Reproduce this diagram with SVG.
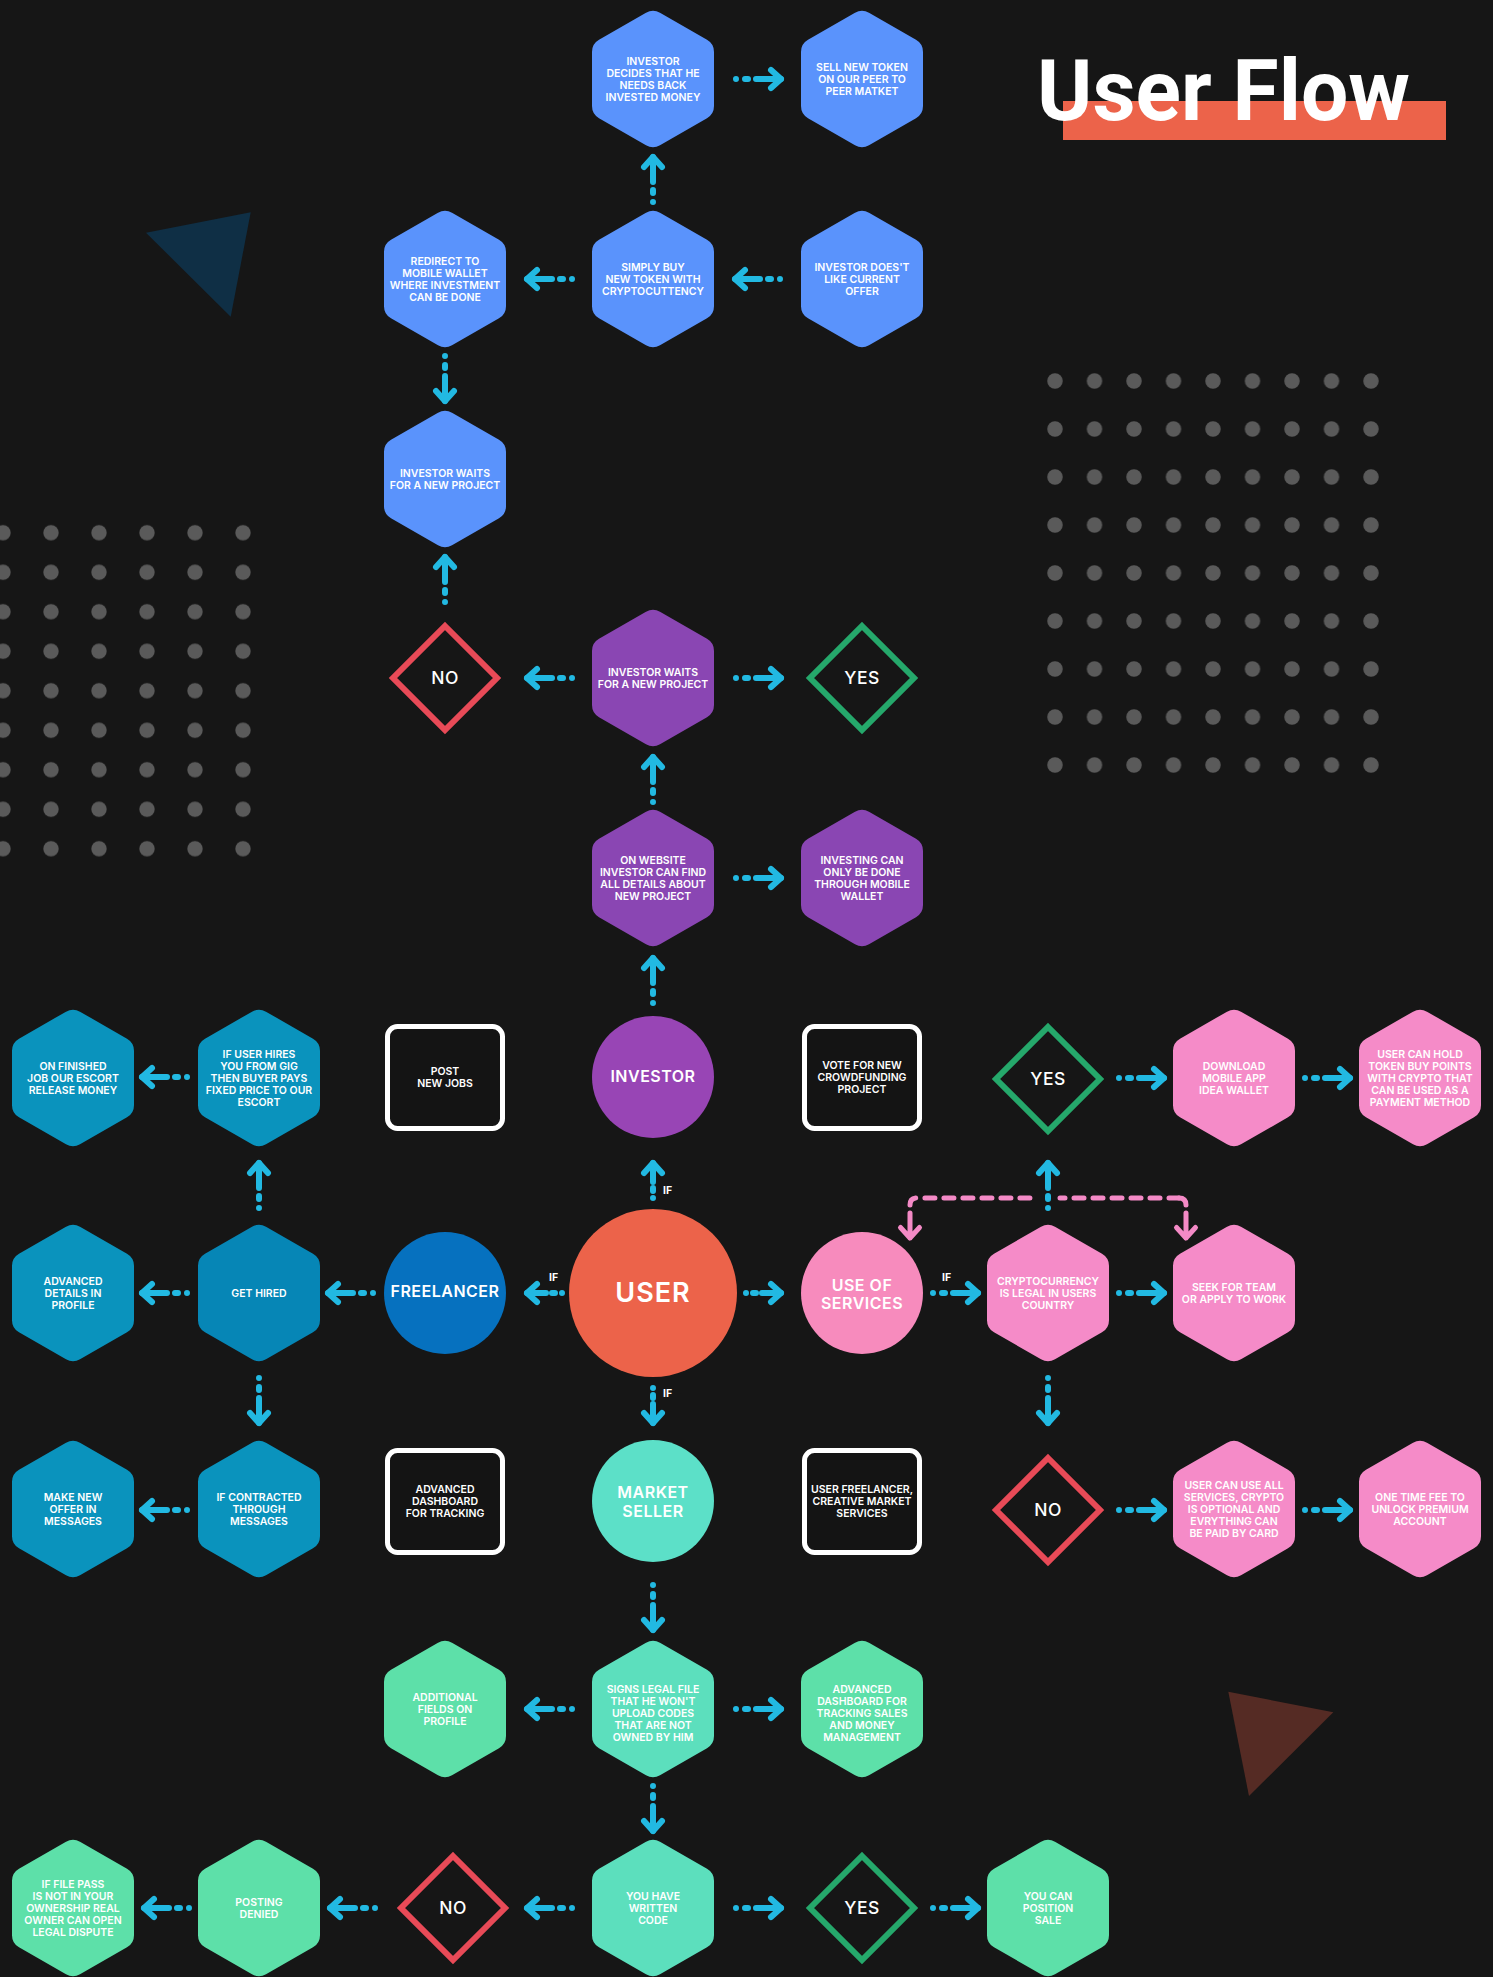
<svg xmlns="http://www.w3.org/2000/svg" width="1493" height="1977" viewBox="0 0 1493 1977">
<style>
.t{font-family:Inter,"Noto Sans","DejaVu Sans",sans-serif;font-weight:600;font-size:10.5px;fill:#fff;text-anchor:middle}
.cl{font-size:16px;letter-spacing:0.5px}
.big{font-size:27px;letter-spacing:1px}
.dt{font-family:Inter,"Noto Sans",sans-serif;font-weight:500;font-size:17.5px;fill:#fff;text-anchor:middle;letter-spacing:0.5px}
.if{font-family:Inter,"Noto Sans",sans-serif;font-weight:700;font-size:10.5px;fill:#fff}
.ar{fill:none;stroke:#22b9e2;stroke-width:6;stroke-linecap:round;stroke-linejoin:round}
.pk{fill:none;stroke:#f48ac6;stroke-width:5;stroke-linecap:round;stroke-linejoin:round}
.box{fill:#141414;stroke:#fff;stroke-width:5}
.no{fill:none;stroke:#e84a57;stroke-width:6}
.yes{fill:none;stroke:#25a86b;stroke-width:6}
.blue{fill:#5a93fc}
.purple{fill:#8a46b3}
.teal{fill:#0a93bd}
.teal2{fill:#0686b6}
.pink{fill:#f58bc8}
.green{fill:#5de0a9}
.green2{fill:#5cdfbd}
</style>
<defs>
<path id="hx" d="M-7-66.35A14 14 0 0 1 7-66.35L54-39.25A14 14 0 0 1 61-27.1L61 27.1A14 14 0 0 1 54 39.25L7 66.35A14 14 0 0 1-7 66.35L-54 39.25A14 14 0 0 1-61 27.1L-61-27.1A14 14 0 0 1-54-39.25Z"/>
<path id="dm" d="M0-52L52 0 0 52-52 0Z"/>
<g id="ar" class="ar"><path d="M-48 0H-3" stroke-dasharray="0 9 3 8 100"/><path d="M-13-9L-3 0-13 9"/></g>
<g id="as" class="ar"><path d="M-38 0H-3" stroke-dasharray="0 7 3 6 100"/><path d="M-13-9L-3 0-13 9"/></g>
<pattern id="dl" x="-21" y="513" width="48" height="39.5" patternUnits="userSpaceOnUse"><circle cx="24" cy="19.75" r="7.7" fill="#5a5a5a"/></pattern>
<pattern id="dr" x="1035.25" y="357" width="39.5" height="48" patternUnits="userSpaceOnUse"><circle cx="19.75" cy="24" r="7.7" fill="#5a5a5a"/></pattern>
</defs>
<rect width="1493" height="1977" fill="#161616"/>
<g id="decor">
<rect x="0" y="513" width="270" height="355" fill="url(#dl)"/>
<rect x="1035.25" y="357" width="355.5" height="432" fill="url(#dr)"/>
<polygon points="146,232.7 250.7,212.3 230.7,316.7" fill="#0f2f45"/>
<polygon points="1228.3,1691.7 1333.3,1712.3 1249,1796" fill="#552b24"/>
</g>
<g id="title">
<rect x="1063" y="101" width="383" height="39" fill="#ec634a"/>
<text x="1037" y="120" font-family="Roboto,'Liberation Sans',sans-serif" font-weight="700" font-size="86" fill="#fff" textLength="373" lengthAdjust="spacingAndGlyphs">User Flow</text>
</g>

<g id="connectors">
<use href="#ar" transform="translate(784,79)"/>
<use href="#ar" transform="translate(784,678)"/>
<use href="#ar" transform="translate(784,878)"/>
<use href="#ar" transform="translate(981,1293)"/>
<use href="#ar" transform="translate(1167,1293)"/>
<use href="#ar" transform="translate(1167,1078)"/>
<use href="#ar" transform="translate(1353,1078)"/>
<use href="#ar" transform="translate(1167,1510)"/>
<use href="#ar" transform="translate(1353,1510)"/>
<use href="#ar" transform="translate(784,1709)"/>
<use href="#ar" transform="translate(784,1908)"/>
<use href="#ar" transform="translate(981,1908)"/>
<use href="#as" transform="translate(784,1293)"/>
<use href="#ar" transform="translate(732,279) rotate(180)"/>
<use href="#ar" transform="translate(524,279) rotate(180)"/>
<use href="#ar" transform="translate(524,678) rotate(180)"/>
<use href="#ar" transform="translate(325,1293) rotate(180)"/>
<use href="#ar" transform="translate(139,1293) rotate(180)"/>
<use href="#ar" transform="translate(139,1077) rotate(180)"/>
<use href="#ar" transform="translate(139,1510) rotate(180)"/>
<use href="#ar" transform="translate(524,1709) rotate(180)"/>
<use href="#ar" transform="translate(524,1908) rotate(180)"/>
<use href="#ar" transform="translate(327,1908) rotate(180)"/>
<use href="#ar" transform="translate(141,1908) rotate(180)"/>
<use href="#as" transform="translate(524,1293) rotate(180)"/>
<use href="#ar" transform="translate(653,154) rotate(-90)"/>
<use href="#ar" transform="translate(445,554) rotate(-90)"/>
<use href="#ar" transform="translate(653,754) rotate(-90)"/>
<use href="#ar" transform="translate(653,955) rotate(-90)"/>
<use href="#ar" transform="translate(259,1160) rotate(-90)"/>
<use href="#as" transform="translate(653,1160) rotate(-90)"/>
<use href="#ar" transform="translate(445,404) rotate(90)"/>
<use href="#ar" transform="translate(259,1426) rotate(90)"/>
<use href="#ar" transform="translate(1048,1426) rotate(90)"/>
<use href="#ar" transform="translate(653,1834) rotate(90)"/>
<use href="#ar" transform="translate(653,1633) rotate(90)"/>
<use href="#as" transform="translate(653,1426) rotate(90)"/>
<g class="pk">
<path d="M910 1213V1238M900.5 1227.5L910 1238 919.5 1227.5"/>
<path d="M1186 1213V1238M1176.5 1227.5L1186 1238 1195.5 1227.5"/>
<path d="M910 1205Q910 1198 917 1198H1036" stroke-dasharray="10 9"/>
<path d="M1179 1198H1060" stroke-dasharray="10 9"/>
<path d="M1186 1205Q1186 1198 1179 1198"/>
</g>
<use href="#ar" transform="translate(1048,1160) rotate(-90)"/>
<text class="if" x="663" y="1194">IF</text>
<text class="if" x="663" y="1397">IF</text>
<text class="if" x="549" y="1281">IF</text>
<text class="if" x="942" y="1281">IF</text>
</g>

<g id="n-investor-decides"><use href="#hx" x="653" y="79" class="blue"/><text class="t" y="64.8"><tspan x="653">INVESTOR</tspan><tspan x="653" dy="12">DECIDES THAT HE</tspan><tspan x="653" dy="12">NEEDS BACK</tspan><tspan x="653" dy="12">INVESTED MONEY</tspan></text></g>
<g id="n-sell-token"><use href="#hx" x="862" y="79" class="blue"/><text class="t" y="70.8"><tspan x="862">SELL NEW TOKEN</tspan><tspan x="862" dy="12">ON OUR PEER TO</tspan><tspan x="862" dy="12">PEER MATKET</tspan></text></g>
<g id="n-redirect"><use href="#hx" x="445" y="279" class="blue"/><text class="t" y="264.8"><tspan x="445">REDIRECT TO</tspan><tspan x="445" dy="12">MOBILE WALLET</tspan><tspan x="445" dy="12">WHERE INVESTMENT</tspan><tspan x="445" dy="12">CAN BE DONE</tspan></text></g>
<g id="n-simply-buy"><use href="#hx" x="653" y="279" class="blue"/><text class="t" y="270.8"><tspan x="653">SIMPLY BUY</tspan><tspan x="653" dy="12">NEW TOKEN WITH</tspan><tspan x="653" dy="12">CRYPTOCUTTENCY</tspan></text></g>
<g id="n-doesnt-like"><use href="#hx" x="862" y="279" class="blue"/><text class="t" y="270.8"><tspan x="862">INVESTOR DOES'T</tspan><tspan x="862" dy="12">LIKE CURRENT</tspan><tspan x="862" dy="12">OFFER</tspan></text></g>
<g id="n-waits-blue"><use href="#hx" x="445" y="479" class="blue"/><text class="t" y="476.8"><tspan x="445">INVESTOR WAITS</tspan><tspan x="445" dy="12">FOR A NEW PROJECT</tspan></text></g>
<g id="n-no-1"><use href="#dm" x="445" y="678" class="no"/><text class="dt" x="445" y="684.4">NO</text></g>
<g id="n-waits-purple"><use href="#hx" x="653" y="678" class="purple"/><text class="t" y="675.8"><tspan x="653">INVESTOR WAITS</tspan><tspan x="653" dy="12">FOR A NEW PROJECT</tspan></text></g>
<g id="n-yes-1"><use href="#dm" x="862" y="678" class="yes"/><text class="dt" x="862" y="684.4">YES</text></g>
<g id="n-website"><use href="#hx" x="653" y="878" class="purple"/><text class="t" y="863.8"><tspan x="653">ON WEBSITE</tspan><tspan x="653" dy="12">INVESTOR CAN FIND</tspan><tspan x="653" dy="12">ALL DETAILS ABOUT</tspan><tspan x="653" dy="12">NEW PROJECT</tspan></text></g>
<g id="n-investing-mobile"><use href="#hx" x="862" y="878" class="purple"/><text class="t" y="863.8"><tspan x="862">INVESTING CAN</tspan><tspan x="862" dy="12">ONLY BE DONE</tspan><tspan x="862" dy="12">THROUGH MOBILE</tspan><tspan x="862" dy="12">WALLET</tspan></text></g>

<g id="n-finished"><use href="#hx" x="73" y="1078" class="teal"/><text class="t" y="1069.8"><tspan x="73">ON FINISHED</tspan><tspan x="73" dy="12">JOB OUR ESCORT</tspan><tspan x="73" dy="12">RELEASE MONEY</tspan></text></g>
<g id="n-user-hires"><use href="#hx" x="259" y="1078" class="teal"/><text class="t" y="1057.8"><tspan x="259">IF USER HIRES</tspan><tspan x="259" dy="12">YOU FROM GIG</tspan><tspan x="259" dy="12">THEN BUYER PAYS</tspan><tspan x="259" dy="12">FIXED PRICE TO OUR</tspan><tspan x="259" dy="12">ESCORT</tspan></text></g>
<g id="n-post-jobs"><rect class="box" x="387.5" y="1026.5" width="115" height="102" rx="10"/><text class="t" y="1075.3"><tspan x="445">POST</tspan><tspan x="445" dy="12">NEW JOBS</tspan></text></g>
<g id="n-investor"><circle cx="653" cy="1077" r="61" fill="#9845b5"/><text class="t cl" x="653" y="1082">INVESTOR</text></g>
<g id="n-vote"><rect class="box" x="804.5" y="1026.5" width="115" height="102" rx="10"/><text class="t" y="1069.3"><tspan x="862">VOTE FOR NEW</tspan><tspan x="862" dy="12">CROWDFUNDING</tspan><tspan x="862" dy="12">PROJECT</tspan></text></g>
<g id="n-yes-2"><use href="#dm" x="1048" y="1079" class="yes"/><text class="dt" x="1048" y="1085.4">YES</text></g>
<g id="n-download"><use href="#hx" x="1234" y="1078" class="pink"/><text class="t" y="1069.8"><tspan x="1234">DOWNLOAD</tspan><tspan x="1234" dy="12">MOBILE APP</tspan><tspan x="1234" dy="12">IDEA WALLET</tspan></text></g>
<g id="n-hold-token"><use href="#hx" x="1420" y="1078" class="pink"/><text class="t" y="1057.8"><tspan x="1420">USER CAN HOLD</tspan><tspan x="1420" dy="12">TOKEN BUY POINTS</tspan><tspan x="1420" dy="12">WITH CRYPTO THAT</tspan><tspan x="1420" dy="12">CAN BE USED AS A</tspan><tspan x="1420" dy="12">PAYMENT METHOD</tspan></text></g>

<g id="n-adv-details"><use href="#hx" x="73" y="1293" class="teal"/><text class="t" y="1284.8"><tspan x="73">ADVANCED</tspan><tspan x="73" dy="12">DETAILS IN</tspan><tspan x="73" dy="12">PROFILE</tspan></text></g>
<g id="n-get-hired"><use href="#hx" x="259" y="1293" class="teal2"/><text class="t" x="259" y="1296.8">GET HIRED</text></g>
<g id="n-freelancer"><circle cx="445" cy="1293" r="61" fill="#0671bf"/><text class="t cl" x="445" y="1297.4">FREELANCER</text></g>
<g id="n-user"><circle cx="653" cy="1293" r="84" fill="#ec634a"/><text class="t big" x="653" y="1302">USER</text></g>
<g id="n-services"><circle cx="862" cy="1293" r="61" fill="#f78bbd"/><text class="t cl" y="1291.3"><tspan x="862">USE OF</tspan><tspan x="862" dy="17.5">SERVICES</tspan></text></g>
<g id="n-crypto-legal"><use href="#hx" x="1048" y="1293" class="pink"/><text class="t" y="1284.8"><tspan x="1048">CRYPTOCURRENCY</tspan><tspan x="1048" dy="12">IS LEGAL IN USERS</tspan><tspan x="1048" dy="12">COUNTRY</tspan></text></g>
<g id="n-seek-team"><use href="#hx" x="1234" y="1293" class="pink"/><text class="t" y="1290.8"><tspan x="1234">SEEK FOR TEAM</tspan><tspan x="1234" dy="12">OR APPLY TO WORK</tspan></text></g>

<g id="n-new-offer"><use href="#hx" x="73" y="1509" class="teal"/><text class="t" y="1500.8"><tspan x="73">MAKE NEW</tspan><tspan x="73" dy="12">OFFER IN</tspan><tspan x="73" dy="12">MESSAGES</tspan></text></g>
<g id="n-contracted"><use href="#hx" x="259" y="1509" class="teal"/><text class="t" y="1500.8"><tspan x="259">IF CONTRACTED</tspan><tspan x="259" dy="12">THROUGH</tspan><tspan x="259" dy="12">MESSAGES</tspan></text></g>
<g id="n-adv-dashboard"><rect class="box" x="387.5" y="1450.5" width="115" height="102" rx="10"/><text class="t" y="1492.8"><tspan x="445">ADVANCED</tspan><tspan x="445" dy="12">DASHBOARD</tspan><tspan x="445" dy="12">FOR TRACKING</tspan></text></g>
<g id="n-market-seller"><circle cx="653" cy="1501" r="61" fill="#5ce0c8"/><text class="t cl" y="1498.3"><tspan x="653">MARKET</tspan><tspan x="653" dy="18.5">SELLER</tspan></text></g>
<g id="n-creative"><rect class="box" x="804.5" y="1450.5" width="115" height="102" rx="10"/><text class="t" y="1492.8"><tspan x="862">USER FREELANCER,</tspan><tspan x="862" dy="12">CREATIVE MARKET</tspan><tspan x="862" dy="12">SERVICES</tspan></text></g>
<g id="n-no-2"><use href="#dm" x="1048" y="1510" class="no"/><text class="dt" x="1048" y="1516.4">NO</text></g>
<g id="n-use-all"><use href="#hx" x="1234" y="1509" class="pink"/><text class="t" y="1488.8"><tspan x="1234">USER CAN USE ALL</tspan><tspan x="1234" dy="12">SERVICES, CRYPTO</tspan><tspan x="1234" dy="12">IS OPTIONAL AND</tspan><tspan x="1234" dy="12">EVRYTHING CAN</tspan><tspan x="1234" dy="12">BE PAID BY CARD</tspan></text></g>
<g id="n-one-time-fee"><use href="#hx" x="1420" y="1509" class="pink"/><text class="t" y="1500.8"><tspan x="1420">ONE TIME FEE TO</tspan><tspan x="1420" dy="12">UNLOCK PREMIUM</tspan><tspan x="1420" dy="12">ACCOUNT</tspan></text></g>

<g id="n-additional"><use href="#hx" x="445" y="1709" class="green"/><text class="t" y="1700.8"><tspan x="445">ADDITIONAL</tspan><tspan x="445" dy="12">FIELDS ON</tspan><tspan x="445" dy="12">PROFILE</tspan></text></g>
<g id="n-signs-legal"><use href="#hx" x="653" y="1709" class="green2"/><text class="t" y="1692.8"><tspan x="653">SIGNS LEGAL FILE</tspan><tspan x="653" dy="12">THAT HE WON'T</tspan><tspan x="653" dy="12">UPLOAD CODES</tspan><tspan x="653" dy="12">THAT ARE NOT</tspan><tspan x="653" dy="12">OWNED BY HIM</tspan></text></g>
<g id="n-adv-dashboard-sales"><use href="#hx" x="862" y="1709" class="green"/><text class="t" y="1692.8"><tspan x="862">ADVANCED</tspan><tspan x="862" dy="12">DASHBOARD FOR</tspan><tspan x="862" dy="12">TRACKING SALES</tspan><tspan x="862" dy="12">AND MONEY</tspan><tspan x="862" dy="12">MANAGEMENT</tspan></text></g>

<g id="n-file-pass"><use href="#hx" x="73" y="1908" class="green"/><text class="t" y="1887.8"><tspan x="73">IF FILE PASS</tspan><tspan x="73" dy="12">IS NOT IN YOUR</tspan><tspan x="73" dy="12">OWNERSHIP REAL</tspan><tspan x="73" dy="12">OWNER CAN OPEN</tspan><tspan x="73" dy="12">LEGAL DISPUTE</tspan></text></g>
<g id="n-posting-denied"><use href="#hx" x="259" y="1908" class="green"/><text class="t" y="1905.8"><tspan x="259">POSTING</tspan><tspan x="259" dy="12">DENIED</tspan></text></g>
<g id="n-no-3"><use href="#dm" x="453" y="1908" class="no"/><text class="dt" x="453" y="1914.4">NO</text></g>
<g id="n-written-code"><use href="#hx" x="653" y="1908" class="green2"/><text class="t" y="1899.8"><tspan x="653">YOU HAVE</tspan><tspan x="653" dy="12">WRITTEN</tspan><tspan x="653" dy="12">CODE</tspan></text></g>
<g id="n-yes-3"><use href="#dm" x="862" y="1908" class="yes"/><text class="dt" x="862" y="1914.4">YES</text></g>
<g id="n-position-sale"><use href="#hx" x="1048" y="1908" class="green"/><text class="t" y="1899.8"><tspan x="1048">YOU CAN</tspan><tspan x="1048" dy="12">POSITION</tspan><tspan x="1048" dy="12">SALE</tspan></text></g>
</svg>
